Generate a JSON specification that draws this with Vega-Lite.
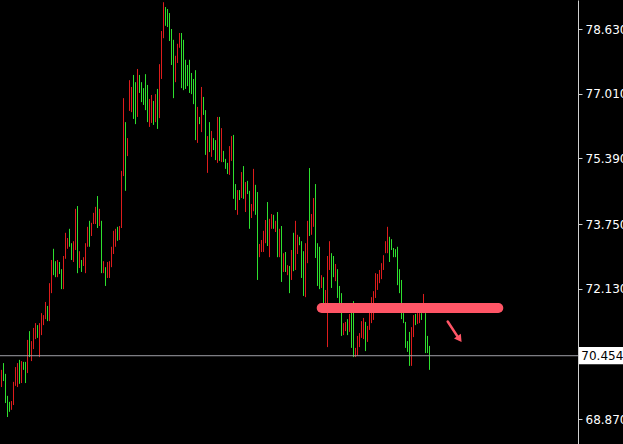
{
"$schema": "https://vega.github.io/schema/vega-lite/v6.json",
"width": 578, "height": 444,
"autosize": {"type": "none"},
"padding": {"left": 0, "top": 0, "right": 45, "bottom": 0},
"background": "#000000",
"config": {"view": {"stroke": null}, "axis": {"grid": false, "domainColor": "#d0d0d0", "tickColor": "#d0d0d0", "labelColor": "#ffffff", "labelFont": "DejaVu Sans", "labelFontSize": 12, "tickSize": 4, "labelPadding": 3, "title": null}},
"datasets": {
"bars": [
{"i":0,"d":"d","h":70.10,"l":69.67},{"i":1,"d":"u","h":70.27,"l":69.82},{"i":2,"d":"u","h":70.00,"l":69.27},{"i":3,"d":"u","h":69.45,"l":68.92},{"i":4,"d":"u","h":69.30,"l":69.05},{"i":5,"d":"d","h":69.32,"l":69.10},{"i":6,"d":"d","h":69.80,"l":69.22},{"i":7,"d":"d","h":70.17,"l":69.70},{"i":8,"d":"d","h":70.27,"l":69.67},{"i":9,"d":"u","h":70.35,"l":69.75},
{"i":10,"d":"d","h":70.32,"l":69.77},{"i":11,"d":"u","h":70.30,"l":70.10},{"i":12,"d":"u","h":70.30,"l":69.77},{"i":13,"d":"d","h":70.85,"l":70.02},{"i":14,"d":"u","h":71.07,"l":70.42},{"i":15,"d":"d","h":70.82,"l":70.32},{"i":16,"d":"d","h":71.15,"l":70.62},{"i":17,"d":"d","h":71.27,"l":70.87},{"i":18,"d":"u","h":71.22,"l":70.90},{"i":19,"d":"d","h":71.27,"l":70.42},
{"i":20,"d":"d","h":71.52,"l":70.97},{"i":21,"d":"d","h":71.47,"l":71.22},{"i":22,"d":"d","h":71.80,"l":71.37},{"i":23,"d":"u","h":71.70,"l":71.32},{"i":24,"d":"d","h":72.27,"l":71.32},{"i":25,"d":"d","h":72.85,"l":72.02},{"i":26,"d":"u","h":73.13,"l":72.47},{"i":27,"d":"u","h":72.82,"l":72.42},{"i":28,"d":"d","h":72.85,"l":72.42},{"i":29,"d":"u","h":72.80,"l":72.50},
{"i":30,"d":"u","h":72.62,"l":72.12},{"i":31,"d":"d","h":72.95,"l":72.12},{"i":32,"d":"d","h":73.53,"l":72.88},{"i":33,"d":"d","h":73.40,"l":73.13},{"i":34,"d":"u","h":73.63,"l":73.18},{"i":35,"d":"u","h":73.27,"l":72.85},{"i":36,"d":"d","h":73.32,"l":72.80},{"i":37,"d":"d","h":74.13,"l":73.10},{"i":38,"d":"u","h":74.20,"l":72.52},{"i":39,"d":"d","h":73.07,"l":72.65},
{"i":40,"d":"u","h":72.85,"l":72.55},{"i":41,"d":"d","h":72.92,"l":72.70},{"i":42,"d":"d","h":73.27,"l":72.52},{"i":43,"d":"d","h":73.68,"l":73.18},{"i":44,"d":"u","h":73.83,"l":73.18},{"i":45,"d":"d","h":73.78,"l":73.45},{"i":46,"d":"d","h":74.03,"l":73.75},{"i":47,"d":"d","h":74.18,"l":73.75},{"i":48,"d":"u","h":74.45,"l":73.65},{"i":49,"d":"d","h":74.13,"l":73.70},
{"i":50,"d":"u","h":73.83,"l":72.52},{"i":51,"d":"d","h":72.82,"l":72.52},{"i":52,"d":"u","h":72.67,"l":72.20},{"i":53,"d":"d","h":72.80,"l":72.40},{"i":54,"d":"d","h":72.82,"l":72.40},{"i":55,"d":"d","h":73.18,"l":72.67},{"i":56,"d":"d","h":73.58,"l":73.00},{"i":57,"d":"d","h":73.63,"l":73.18},{"i":58,"d":"u","h":73.68,"l":73.33},{"i":59,"d":"d","h":73.70,"l":73.35},
{"i":60,"d":"d","h":75.08,"l":73.65},{"i":61,"d":"d","h":76.90,"l":74.95},{"i":62,"d":"u","h":76.30,"l":74.58},{"i":63,"d":"d","h":75.90,"l":75.45},{"i":64,"d":"d","h":77.35,"l":76.58},{"i":65,"d":"d","h":77.18,"l":76.55},{"i":66,"d":"u","h":77.48,"l":76.38},{"i":67,"d":"u","h":77.30,"l":76.25},{"i":68,"d":"d","h":77.63,"l":76.43},{"i":69,"d":"u","h":77.48,"l":77.03},
{"i":70,"d":"u","h":77.30,"l":76.80},{"i":71,"d":"u","h":77.15,"l":76.73},{"i":72,"d":"u","h":77.50,"l":76.60},{"i":73,"d":"u","h":77.23,"l":76.30},{"i":74,"d":"d","h":76.88,"l":76.18},{"i":75,"d":"d","h":76.98,"l":76.28},{"i":76,"d":"u","h":76.83,"l":76.23},{"i":77,"d":"d","h":77.00,"l":76.30},{"i":78,"d":"u","h":77.13,"l":76.13},{"i":79,"d":"d","h":77.75,"l":76.40},
{"i":80,"d":"d","h":78.58,"l":77.38},{"i":81,"d":"d","h":79.30,"l":78.40},{"i":82,"d":"u","h":79.18,"l":78.71},{"i":83,"d":"u","h":79.13,"l":78.68},{"i":84,"d":"u","h":79.03,"l":78.33},{"i":85,"d":"u","h":78.63,"l":77.73},{"i":86,"d":"u","h":78.36,"l":76.90},{"i":87,"d":"d","h":77.96,"l":77.30},{"i":88,"d":"d","h":78.26,"l":77.78},{"i":89,"d":"d","h":78.53,"l":78.16},
{"i":90,"d":"u","h":78.53,"l":77.15},{"i":91,"d":"u","h":78.36,"l":77.10},{"i":92,"d":"u","h":77.86,"l":77.13},{"i":93,"d":"u","h":77.73,"l":77.20},{"i":94,"d":"u","h":77.86,"l":77.03},{"i":95,"d":"u","h":77.53,"l":77.00},{"i":96,"d":"u","h":77.38,"l":76.75},{"i":97,"d":"u","h":77.60,"l":75.85},{"i":98,"d":"d","h":76.68,"l":75.78},{"i":99,"d":"u","h":76.43,"l":76.25},
{"i":100,"d":"d","h":77.18,"l":76.05},{"i":101,"d":"u","h":76.93,"l":76.48},{"i":102,"d":"u","h":76.60,"l":75.48},{"i":103,"d":"d","h":75.95,"l":75.03},{"i":104,"d":"u","h":76.30,"l":75.55},{"i":105,"d":"d","h":76.08,"l":75.43},{"i":106,"d":"u","h":75.90,"l":75.60},{"i":107,"d":"u","h":75.85,"l":75.35},{"i":108,"d":"d","h":76.43,"l":75.28},{"i":109,"d":"u","h":76.43,"l":75.33},
{"i":110,"d":"d","h":76.15,"l":75.30},{"i":111,"d":"u","h":75.58,"l":75.30},{"i":112,"d":"u","h":75.38,"l":75.13},{"i":113,"d":"u","h":75.28,"l":75.00},{"i":114,"d":"d","h":75.70,"l":74.98},{"i":115,"d":"d","h":75.95,"l":75.33},{"i":116,"d":"u","h":75.98,"l":74.38},{"i":117,"d":"u","h":74.75,"l":74.10},{"i":118,"d":"d","h":74.60,"l":73.98},{"i":119,"d":"u","h":74.60,"l":74.35},
{"i":120,"d":"d","h":75.05,"l":74.40},{"i":121,"d":"u","h":75.20,"l":74.38},{"i":122,"d":"d","h":74.80,"l":74.05},{"i":123,"d":"u","h":74.83,"l":74.50},{"i":124,"d":"u","h":74.58,"l":73.63},{"i":125,"d":"d","h":74.25,"l":73.90},{"i":126,"d":"d","h":75.13,"l":74.07},{"i":127,"d":"u","h":74.73,"l":73.98},{"i":128,"d":"u","h":74.55,"l":72.35},{"i":129,"d":"d","h":73.25,"l":72.92},
{"i":130,"d":"d","h":73.35,"l":73.05},{"i":131,"d":"d","h":73.58,"l":73.05},{"i":132,"d":"d","h":73.85,"l":73.27},{"i":133,"d":"u","h":74.30,"l":73.20},{"i":134,"d":"d","h":73.88,"l":72.92},{"i":135,"d":"d","h":74.00,"l":73.63},{"i":136,"d":"u","h":73.98,"l":73.63},{"i":137,"d":"d","h":73.83,"l":73.55},{"i":138,"d":"u","h":74.05,"l":72.92},{"i":139,"d":"d","h":73.63,"l":72.92},
{"i":140,"d":"u","h":73.70,"l":72.30},{"i":141,"d":"d","h":73.02,"l":72.55},{"i":142,"d":"u","h":73.05,"l":72.55},{"i":143,"d":"d","h":72.72,"l":72.47},{"i":144,"d":"u","h":72.70,"l":72.02},{"i":145,"d":"d","h":73.10,"l":72.35},{"i":146,"d":"u","h":73.53,"l":72.57},{"i":147,"d":"d","h":73.83,"l":72.60},{"i":148,"d":"d","h":73.48,"l":73.00},{"i":149,"d":"u","h":73.43,"l":73.22},
{"i":150,"d":"u","h":73.32,"l":72.40},{"i":151,"d":"u","h":73.07,"l":71.95},{"i":152,"d":"d","h":73.27,"l":71.92},{"i":153,"d":"d","h":73.83,"l":72.77},{"i":154,"d":"u","h":75.15,"l":73.45},{"i":155,"d":"d","h":74.00,"l":73.48},{"i":156,"d":"d","h":74.40,"l":73.68},{"i":157,"d":"u","h":74.75,"l":72.90},{"i":158,"d":"u","h":73.27,"l":72.20},{"i":159,"d":"u","h":73.18,"l":72.12},
{"i":160,"d":"d","h":72.47,"l":72.15},{"i":161,"d":"u","h":72.42,"l":71.77},{"i":162,"d":"d","h":72.10,"l":71.67},{"i":163,"d":"d","h":72.95,"l":70.67},{"i":164,"d":"d","h":73.32,"l":72.60},{"i":165,"d":"u","h":73.02,"l":72.15},{"i":166,"d":"u","h":72.95,"l":72.42},{"i":167,"d":"d","h":72.75,"l":72.32},{"i":168,"d":"u","h":72.62,"l":71.90},{"i":169,"d":"u","h":72.20,"l":71.77},
{"i":170,"d":"u","h":72.02,"l":70.95},{"i":171,"d":"d","h":71.27,"l":70.97},{"i":172,"d":"d","h":71.30,"l":71.07},{"i":173,"d":"u","h":71.37,"l":70.97},{"i":174,"d":"d","h":71.50,"l":71.05},{"i":175,"d":"u","h":71.65,"l":70.65},{"i":176,"d":"u","h":71.82,"l":70.42},{"i":177,"d":"d","h":70.65,"l":70.42},{"i":178,"d":"d","h":70.95,"l":70.45},{"i":179,"d":"d","h":71.02,"l":70.67},
{"i":180,"d":"d","h":71.32,"l":70.90},{"i":181,"d":"d","h":71.40,"l":70.87},{"i":182,"d":"u","h":71.30,"l":70.57},{"i":183,"d":"d","h":71.20,"l":70.80},{"i":184,"d":"d","h":71.70,"l":71.10},{"i":185,"d":"d","h":71.92,"l":71.27},{"i":186,"d":"d","h":72.07,"l":71.35},{"i":187,"d":"d","h":72.52,"l":71.90},{"i":188,"d":"d","h":72.50,"l":72.10},{"i":189,"d":"d","h":72.60,"l":72.27},
{"i":190,"d":"d","h":72.77,"l":72.37},{"i":191,"d":"d","h":72.97,"l":72.60},{"i":192,"d":"d","h":73.32,"l":73.02},{"i":193,"d":"d","h":73.68,"l":73.02},{"i":194,"d":"u","h":73.43,"l":72.80},{"i":195,"d":"u","h":73.37,"l":73.10},{"i":196,"d":"u","h":73.15,"l":72.92},{"i":197,"d":"u","h":73.12,"l":72.92},{"i":198,"d":"u","h":73.18,"l":72.22},{"i":199,"d":"u","h":72.62,"l":72.02},
{"i":200,"d":"u","h":72.35,"l":71.37},{"i":201,"d":"u","h":71.52,"l":71.27},{"i":202,"d":"u","h":71.30,"l":70.65},{"i":203,"d":"u","h":70.82,"l":70.55},{"i":204,"d":"u","h":71.05,"l":70.20},{"i":205,"d":"d","h":71.17,"l":70.20},{"i":206,"d":"d","h":71.47,"l":70.92},{"i":207,"d":"u","h":71.50,"l":71.22},{"i":208,"d":"d","h":71.52,"l":71.25},{"i":209,"d":"d","h":71.52,"l":71.27},
{"i":210,"d":"u","h":71.52,"l":71.35},{"i":211,"d":"d","h":72.00,"l":71.52},{"i":212,"d":"u","h":71.52,"l":70.52},{"i":213,"d":"u","h":70.95,"l":70.52},{"i":214,"d":"u","h":70.70,"l":70.10}
]},
"layer": [
{"data": {"name": "bars"}, "mark": {"type": "rule", "strokeWidth": 1},
 "encoding": {
  "x": {"field": "i", "type": "quantitative", "scale": {"domain": [-0.75, 288.25], "nice": false, "zero": false}, "axis": null},
  "y": {"field": "h", "type": "quantitative", "scale": {"domain": [68.245, 79.356], "nice": false, "zero": false},
        "axis": {"orient": "right", "values": [68.87, 72.13, 73.75, 75.39, 77.01, 78.63], "format": ".3f", "title": null, "labelOverlap": false, "labelBound": false, "labelFlush": false}},
  "y2": {"field": "l"},
  "color": {"field": "d", "type": "nominal", "scale": {"domain": ["u", "d"], "range": ["#2ee02e", "#dd1c1c"]}, "legend": null}
 }},
{"data": {"values": [{"p": 70.454}]}, "mark": {"type": "rule", "color": "#a0a0a8", "strokeWidth": 1},
 "encoding": {"y": {"field": "p", "type": "quantitative", "title": null}}},
{"data": {"values": [{"a": 160.1, "b": 248.4, "v": 71.65}]}, "mark": {"type": "rule", "color": "#ff5566", "strokeWidth": 10, "strokeCap": "round"},
 "encoding": {"x": {"field": "a", "type": "quantitative", "axis": null}, "x2": {"field": "b"}, "y": {"field": "v", "type": "quantitative", "title": null}}},
{"data": {"values": [{"a": 223.1, "b": 227.8, "v1": 71.31, "v2": 70.95}]}, "mark": {"type": "rule", "color": "#ff5566", "strokeWidth": 2.5, "strokeCap": "round"},
 "encoding": {"x": {"field": "a", "type": "quantitative", "axis": null}, "x2": {"field": "b"}, "y": {"field": "v1", "type": "quantitative", "title": null}, "y2": {"field": "v2"}}},
{"data": {"values": [{"a": 229.0, "v": 70.87}]}, "mark": {"type": "point", "shape": "triangle-up", "filled": true, "color": "#ff5566", "opacity": 1, "size": 70, "angle": 145},
 "encoding": {"x": {"field": "a", "type": "quantitative", "axis": null}, "y": {"field": "v", "type": "quantitative", "title": null}}},
{"data": {"values": [{"a": 288.75, "b": 312, "v1": 70.24, "v2": 70.67}]}, "mark": {"type": "rect", "color": "#ffffff"},
 "encoding": {"x": {"field": "a", "type": "quantitative", "axis": null}, "x2": {"field": "b"}, "y": {"field": "v1", "type": "quantitative", "title": null}, "y2": {"field": "v2"}}},
{"data": {"values": [{"a": 289.9, "v": 70.454, "t": "70.454"}]}, "mark": {"type": "text", "align": "left", "baseline": "middle", "font": "DejaVu Sans", "fontSize": 12, "color": "#000000"},
 "encoding": {"x": {"field": "a", "type": "quantitative", "axis": null}, "y": {"field": "v", "type": "quantitative", "title": null}, "text": {"field": "t"}}}
]
}
